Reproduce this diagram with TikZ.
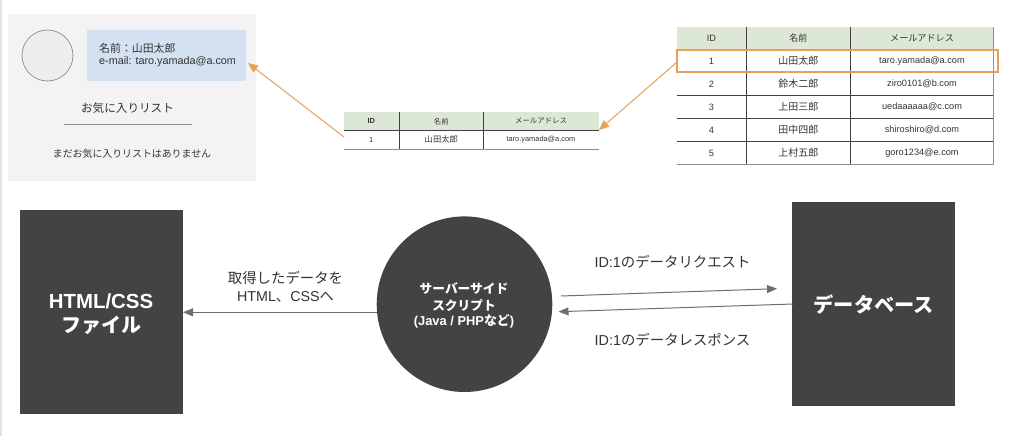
\documentclass[tikz,border=0pt]{standalone}
\usepackage{fontspec}
\setmainfont{Liberation Sans}
\newfontfamily\jp{Noto Sans CJK JP}
\usetikzlibrary{arrows.meta}
\definecolor{panelgray}{HTML}{F3F3F3}
\definecolor{bluefill}{HTML}{D3E1F1}
\definecolor{hdrgreen}{HTML}{DCE8D5}
\definecolor{darkbox}{HTML}{434343}
\definecolor{orangeline}{HTML}{E6A058}
\definecolor{txt}{HTML}{333333}
\definecolor{arrowgray}{HTML}{6E6E6E}
\definecolor{edgegray}{HTML}{E2E2E2}
\newcommand{\fs}[1]{\fontsize{#1}{#1}\selectfont}
\tikzset{
  x=1pt,y=-1pt,
  tx/.style={inner sep=0pt,text=txt,align=center},
  small/.style={tx,font=\fs{9.2}},
  tiny/.style={tx,font=\fs{7.4}},
  darkrect/.style={fill=darkbox,draw=none,text=white,align=center,inner sep=0pt},
  flow/.style={draw=arrowgray,line width=1pt,-{Triangle[length=10pt,width=8pt,fill=arrowgray]}},
  orangearrow/.style={draw=orangeline,line width=1pt,-{Triangle[length=10pt,width=8.5pt,fill=orangeline]}},
  tbl/.style={draw=black!75,line width=0.8pt},
  tbllight/.style={draw=black!45,line width=0.9pt},
}
\begin{document}
\begin{tikzpicture}
\useasboundingbox (0,0) rectangle (1024,436);
\fill[edgegray] (0,0) rectangle (2,436);
% profile panel
\fill[panelgray] (8,14) rectangle (256,181);
\node[circle,minimum size=51pt,inner sep=0pt,draw=black!45,line width=0.7pt,fill=black!7] (avatar) at (47.5,55.5) {};
\fill[bluefill] (87,30.5) rectangle (246,80.5);
\node[tx,anchor=west,font=\jp\fs{10.9}] (namelbl) at (99,48) {名前：山田太郎};
\node[tx,anchor=west,font=\fs{10.8}] (maillbl) at (99,62) {e-mail: taro.yamada@a.com};
\node[tx,font=\jp\fs{11.6}] (favtitle) at (127.5,108) {お気に入りリスト};
\draw[draw=black!45,line width=0.9pt] (64,124.5) -- (192,124.5);
\node[tx,font=\jp\fs{9.9}] (favempty) at (132,154) {まだお気に入りリストはありません};
% middle table
\fill[hdrgreen] (343.5,112.3) rectangle (598.7,130.3);
\draw[tbl] (343.5,130.3) -- (598.7,130.3);
\draw[tbllight] (343.5,149) -- (598.7,149);
\draw[tbl] (399.3,112.3) -- (399.3,149);
\draw[tbl] (483.3,112.3) -- (483.3,149);
\node[tiny,font=\bfseries\fs{7.4}] (m1) at (371.3,121.3) {ID};
\node[tiny,font=\jp\fs{7.4}] (m2) at (441.3,121.3) {名前};
\node[tiny,font=\jp\fs{7.4}] (m3) at (541,121.3) {メールアドレス};
\node[tiny] (m4) at (371.3,139.6) {1};
\node[tiny,font=\jp\fs{8.3}] (m5) at (441.3,139.6) {山田太郎};
\node[tiny] (m6) at (541,139.6) {taro.yamada@a.com};
% right table
\fill[hdrgreen] (676.7,27.3) rectangle (993.7,49.3);
\foreach \yy in {49.3,72.3,95.3,118.3,141.3}{\draw[tbl] (676.7,\yy) -- (993.7,\yy);}
\draw[tbllight] (676.7,164.3) -- (993.7,164.3);
\draw[tbl] (746.3,27.3) -- (746.3,164.3);
\draw[tbl] (850.3,27.3) -- (850.3,164.3);
\draw[draw=black!45,line width=0.7pt] (993.7,27.3) -- (993.7,164.3);
\node[small] (h1) at (711.5,38.5) {ID};
\node[small,font=\jp\fs{9}] (h2) at (798.3,38.5) {名前};
\node[small,font=\jp\fs{9.1}] (h3) at (922,38.5) {メールアドレス};
\node[small] (a1) at (711.5,61) {1};
\node[small,font=\jp\fs{10}] (a2) at (798.3,61) {山田太郎};
\node[small] (a3) at (922,61) {taro.yamada@a.com};
\node[small] (b1) at (711.5,84) {2};
\node[small,font=\jp\fs{10}] (b2) at (798.3,84) {鈴木二郎};
\node[small] (b3) at (922,84) {ziro0101@b.com};
\node[small] (c1) at (711.5,107) {3};
\node[small,font=\jp\fs{10}] (c2) at (798.3,107) {上田三郎};
\node[small] (c3) at (922,107) {uedaaaaaa@c.com};
\node[small] (d1) at (711.5,130) {4};
\node[small,font=\jp\fs{10}] (d2) at (798.3,130) {田中四郎};
\node[small] (d3) at (922,130) {shiroshiro@d.com};
\node[small] (e1) at (711.5,153) {5};
\node[small,font=\jp\fs{10}] (e2) at (798.3,153) {上村五郎};
\node[small] (e3) at (922,153) {goro1234@e.com};
\draw[draw=orangeline,line width=2pt] (677,49.6) rectangle (997.7,72);
% orange arrows
\coordinate (orangeL) at (677,62);
\coordinate (midR) at (599,130);
\coordinate (midL) at (344,137);
\coordinate (blueR) at (248,63);
\draw[orangearrow] (orangeL) -- (midR);
\draw[orangearrow] (midL) -- (blueR);
% bottom row
\node[darkrect,minimum width=163pt,minimum height=204pt] (html) at (101.2,312.3) {};
\node[text=white,inner sep=0pt,font=\bfseries\fs{20.4}] (htmlA) at (101,301) {HTML/CSS};
\node[text=white,inner sep=0pt,font=\jp\bfseries\fs{20}] (htmlB) at (101,325) {ファイル};
\node[circle,fill=darkbox,minimum size=175.6pt,inner sep=0pt] (srv) at (464.5,304.2) {};
\node[text=white,inner sep=0pt,font=\jp\bfseries\fs{12.7}] (srvA) at (464,289) {サーバーサイド};
\node[text=white,inner sep=0pt,font=\jp\bfseries\fs{12.7}] (srvB) at (464,305) {スクリプト};
\node[text=white,inner sep=0pt,font=\bfseries\fs{12.9}] (srvC) at (464,321) {(Java / PHP{\jp\bfseries など})};
\node[darkrect,minimum width=163pt,minimum height=204pt,font=\jp\bfseries\fs{20.2}] (db) at (873.8,304.2) {データベース};
\coordinate (srvL) at (377,312.3);
\coordinate (htmlR) at (183,312.3);
\coordinate (srvR1) at (561,296);
\coordinate (dbL1) at (777,288.7);
\coordinate (dbL2) at (793,304);
\coordinate (srvR2) at (558.5,311.7);
\draw[flow] (srvL) -- (htmlR);
\draw[flow] (srvR1) -- (dbL1);
\draw[flow] (dbL2) -- (srvR2);
\node[tx,font=\jp\fs{14.4}] (lbl1) at (285.5,277.5) {取得したデータを};
\node[tx,font=\fs{14.3}] (lbl2) at (285.5,296.5) {HTML{\jp 、}CSS{\jp へ}};
\node[tx,font=\fs{14.4}] (lbl3) at (672.5,262) {ID:1{\jp のデータリクエスト}};
\node[tx,font=\fs{14.4}] (lbl4) at (672.5,340) {ID:1{\jp のデータレスポンス}};
\end{tikzpicture}
\end{document}
